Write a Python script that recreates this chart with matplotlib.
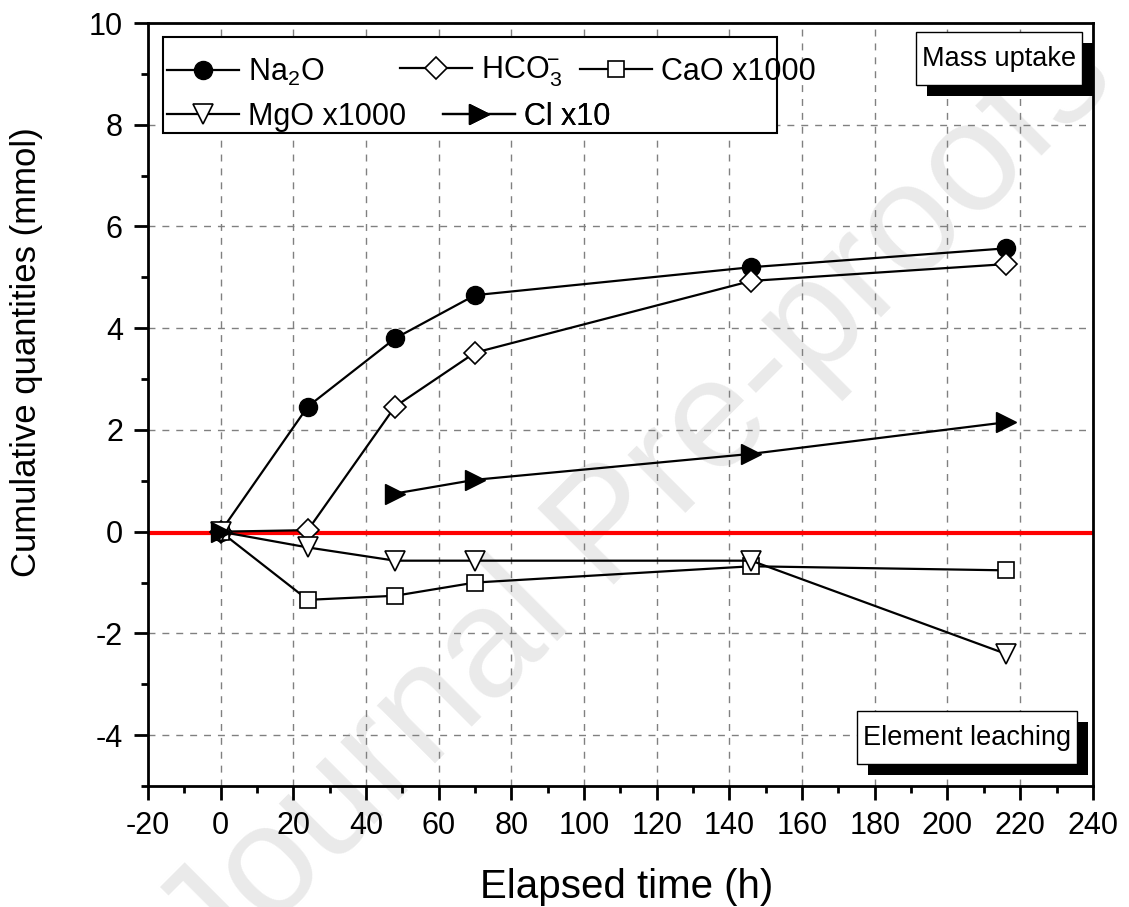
import numpy as np
import matplotlib
matplotlib.use("Agg")
import matplotlib.pyplot as plt
import matplotlib.patheffects as pe
from matplotlib.patches import Rectangle
from matplotlib.ticker import MultipleLocator

plt.rcParams['font.family'] = ['Liberation Sans', 'DejaVu Sans']
plt.rcParams['mathtext.fontset'] = 'custom'
plt.rcParams['mathtext.rm'] = 'Liberation Sans'
plt.rcParams['mathtext.it'] = 'Liberation Sans'
plt.rcParams['axes.unicode_minus'] = False

# data
time_h = [0, 24, 48, 70, 146, 216]
na2o = [0, 2.46, 3.8, 4.65, 5.2, 5.57]
hco3 = [0, 0.03, 2.46, 3.52, 4.93, 5.26]
cao_x1000 = [0, -1.34, -1.26, -1.0, -0.68, -0.76]
mgo_x1000 = [0, -0.31, -0.57, -0.57, -0.57, -2.4]
cl_x10 = [0, np.nan, 0.75, 1.02, 1.53, 2.15]

fig = plt.figure(figsize=(11.29, 9.07), dpi=100)
ax = fig.add_axes([0.131, 0.1334, 0.837, 0.8412])
ax.set_zorder(1)
ax.set_facecolor('none')

# watermark of the source page
fig.text(0.565, 0.445, "Journal Pre-proofs", fontsize=112, color='#eaeaea',
         rotation=45, ha='center', va='center', zorder=0)

ax.axhline(-0.03, color='red', lw=3, zorder=2)

kw = dict(color='black', lw=1.6, zorder=3)
l1, = ax.plot(time_h, na2o, marker='o', ms=13, mfc='black', mec='black', label='Na$_2$O', **kw)
l2, = ax.plot(time_h, hco3, marker='D', ms=11, mfc='white', mec='black', mew=1.2,
              label='HCO$_3^{\\!\\!-}$', **kw)
l3, = ax.plot(time_h, cao_x1000, marker='s', ms=11, mfc='white', mec='black', mew=1.2,
              label='CaO x1000', **kw)
l4, = ax.plot(time_h, mgo_x1000, marker='v', ms=15, mfc='white', mec='black', mew=1.2,
              label='MgO x1000', **kw)
l5, = ax.plot(time_h, cl_x10, marker='>', ms=15, mfc='black', mec='black',
              label='Cl x10', **kw)

ax.set_xlim(-20, 240)
ax.set_ylim(-5, 10)
ax.xaxis.set_major_locator(MultipleLocator(20))
ax.xaxis.set_minor_locator(MultipleLocator(10))
ax.yaxis.set_major_locator(MultipleLocator(2))
ax.yaxis.set_minor_locator(MultipleLocator(1))
ax.tick_params(which='major', length=10, width=2, labelsize=22, direction='out')
ax.tick_params(which='minor', length=5, width=2, direction='out')
ax.tick_params(axis='x', which='major', pad=8)
ax.tick_params(axis='y', which='major', pad=8)
for s in ax.spines.values():
    s.set_linewidth(2)
ax.grid(True, which='major', color='#808080', ls=(0, (5, 5)), lw=1)
ax.set_axisbelow(True)

ax.set_xlabel("Elapsed time (h)", fontsize=29)
ax.set_ylabel("Cumulative quantities (mmol)", fontsize=25)
ax.xaxis.set_label_coords(0.507, -0.108)
ax.yaxis.set_label_coords(-0.111, 0.569)

# legend laid out entry by entry, like the original free-form legend
entries = [(l1, 0.020, 0.9358), (l2, 0.2667, 0.9358), (l3, 0.4571, 0.9358),
           (l4, 0.020, 0.8768), (l5, 0.3122, 0.8768)]
for h, lx, ly in entries:
    lg = ax.legend(handles=[h], loc='center left', bbox_to_anchor=(lx, ly),
                   fontsize=22, frameon=False, handlelength=2.35, handletextpad=0.3,
                   borderpad=0, borderaxespad=0)
    lg.set_zorder(6)
    ax.add_artist(lg)
ax.add_patch(Rectangle((0.0159, 0.8558), 0.6497, 0.1259, transform=ax.transAxes,
                       fc='white', ec='black', lw=1.5, zorder=5))

shadow = [pe.SimplePatchShadow(offset=(8, -8), shadow_rgbFace='black', alpha=1),
          pe.Normal()]
boxes = [("Mass uptake", 0.8127, 0.9187, 0.1757, 0.0695),
         ("Element leaching", 0.7503, 0.0288, 0.2328, 0.0695)]
for txt, bx, by, bw, bh in boxes:
    r = Rectangle((bx, by), bw, bh, transform=ax.transAxes, fc='white', ec='black',
                  lw=1, zorder=6)
    r.set_path_effects(shadow)
    ax.add_patch(r)
    ax.text(bx + bw / 2, by + bh / 2, txt, transform=ax.transAxes, ha='center',
            va='center', fontsize=19.5, zorder=7)

fig.savefig("out.png", dpi=100)
